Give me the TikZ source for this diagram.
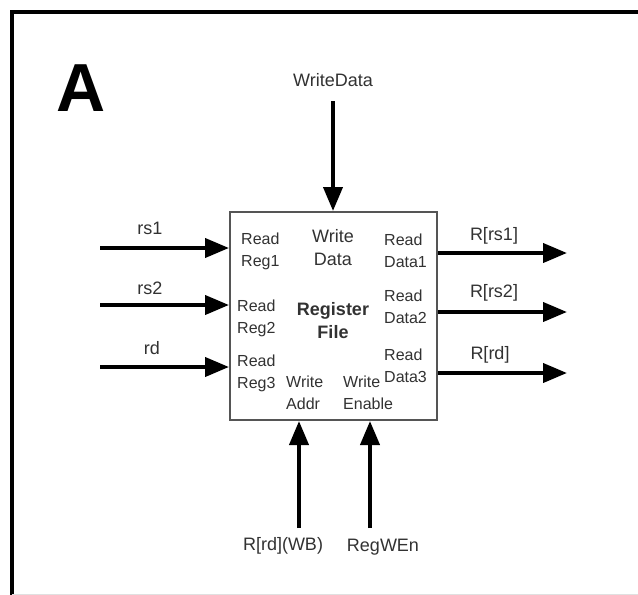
\documentclass[tikz,border=0pt]{standalone}
\usepackage{fontspec}
\setmainfont{Liberation Sans}
\usetikzlibrary{arrows.meta}
\definecolor{txt}{RGB}{50,50,50}
\definecolor{boxline}{RGB}{85,85,85}
\begin{document}
\begin{tikzpicture}[x=1pt,y=-1pt,
  sig/.style={line width=4pt,-{Triangle[length=24pt,width=19pt]}},
  lbl/.style={text=txt,font=\fontsize{18}{21}\selectfont,inner sep=0pt},
  port/.style={text=txt,font=\fontsize{16}{22}\selectfont,align=left,anchor=west,inner sep=0pt},
  bigport/.style={text=txt,font=\fontsize{18}{23}\selectfont,align=center,inner sep=0pt}]
\useasboundingbox (0,0) rectangle (638,595);
\fill[white] (0,0) rectangle (638,595);
\begin{scope}
\clip (0,0) rectangle (638,595);
\draw[line width=4pt] (12,640) -- (12,12) -- (680,12);
\draw[line width=1pt,black!12] (12,594.5) -- (638,594.5);
\end{scope}
\node[inner sep=0pt,font=\fontsize{68}{68}\selectfont\bfseries] (A) at (81.5,88) {A};
% register file box
\node[draw=boxline,line width=2pt,minimum width=207pt,minimum height=208pt,inner sep=0pt] (rf) at (333.5,316) {};
% inner labels
\node[port] (rr1) at (241,251) {Read\\Reg1};
\node[port] (rr2) at (237,318) {Read\\Reg2};
\node[port] (rr3) at (237,373) {Read\\Reg3};
\node[bigport] (wd) at (333,248) {Write\\Data};
\node[bigport,font=\fontsize{18}{23}\selectfont\bfseries] (name) at (333,321) {Register\\File};
\node[port] (rd1) at (384,251) {Read\\Data1};
\node[port] (rd2) at (384,307) {Read\\Data2};
\node[port] (rd3) at (384,366) {Read\\Data3};
\node[port] (wa) at (286,393) {Write\\Addr};
\node[port] (we) at (343,393) {Write\\Enable};
% input signals
\coordinate (i1) at (100,248);
\coordinate (i2) at (100,305);
\coordinate (i3) at (100,367);
\draw[sig] (i1) -- (rf.west |- i1);
\draw[sig] (i2) -- (rf.west |- i2);
\draw[sig] (i3) -- (rf.west |- i3);
\node[lbl] (lrs1) at (150,228) {rs1};
\node[lbl] (lrs2) at (150,288) {rs2};
\node[lbl] (lrd) at (152,348) {rd};
% output signals
\coordinate (o1) at (567,253);
\coordinate (o2) at (567,312);
\coordinate (o3) at (567,373);
\draw[sig] (rf.east |- o1) -- (o1);
\draw[sig] (rf.east |- o2) -- (o2);
\draw[sig] (rf.east |- o3) -- (o3);
\node[lbl] (lo1) at (494,236) {R[rs1]};
\node[lbl] (lo2) at (494,293) {R[rs2]};
\node[lbl] (lo3) at (490,355) {R[rd]};
% write data
\node[lbl] (lwd) at (333,80) {WriteData};
\coordinate (wtop) at (333,101);
\draw[sig] (wtop) -- (rf.north -| wtop);
% bottom signals
\coordinate (b1) at (299,528);
\coordinate (b2) at (370,528);
\draw[sig] (b1) -- (rf.south -| b1);
\draw[sig] (b2) -- (rf.south -| b2);
\node[lbl] (lb1) at (283,546) {R[rd](WB)};
\node[lbl] (lb2) at (383,547) {RegWEn};
\end{tikzpicture}
\end{document}
